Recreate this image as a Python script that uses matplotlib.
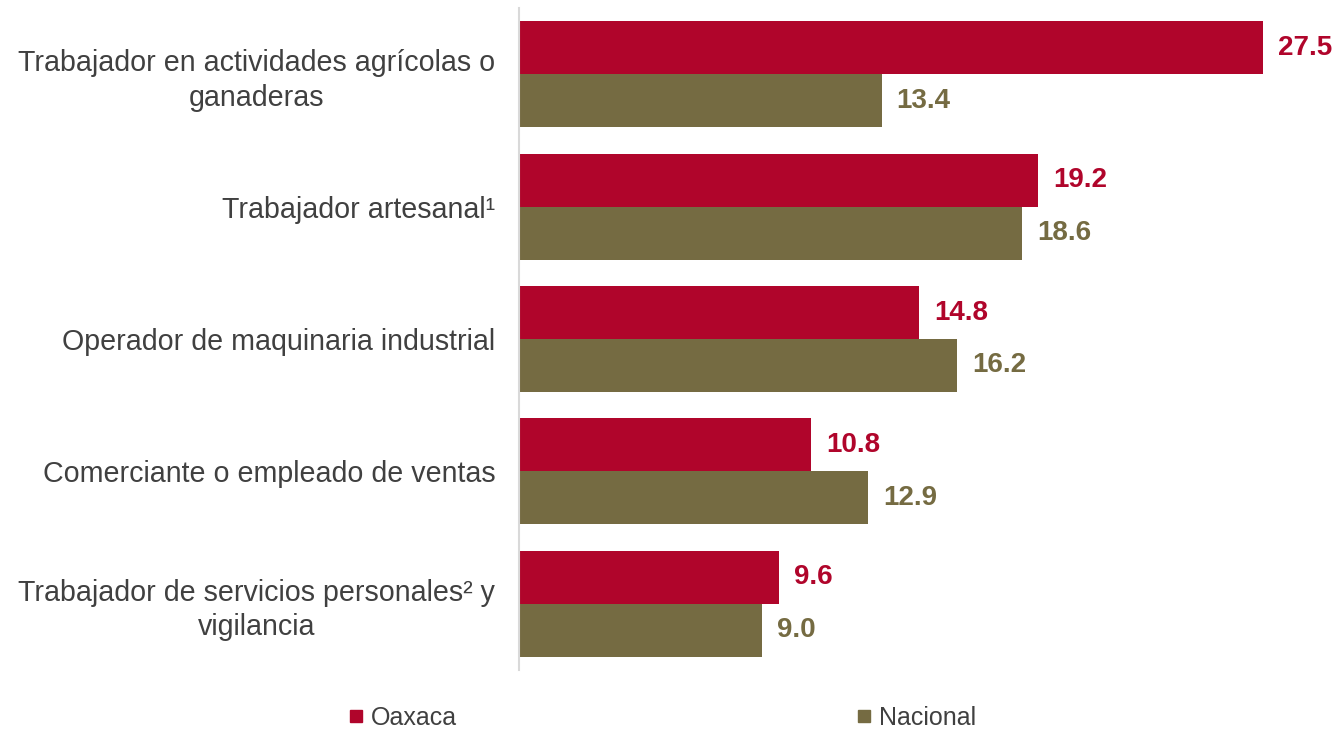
import matplotlib
matplotlib.use("Agg")
import matplotlib.pyplot as plt
from matplotlib.lines import Line2D
import numpy as np

categories = [
    "Trabajador en actividades agrícolas o\nganaderas",
    "Trabajador artesanal¹",
    "Operador de maquinaria industrial",
    "Comerciante o empleado de ventas",
    "Trabajador de servicios personales² y\nvigilancia",
]
oaxaca = [27.5, 19.2, 14.8, 10.8, 9.6]
nacional = [13.4, 18.6, 16.2, 12.9, 9.0]
series_names = ["Oaxaca", "Nacional"]

RED = "#B0052B"
OLIVE = "#756B42"
TXT = "#404040"

plt.rcParams['font.family'] = ['Liberation Sans', 'DejaVu Sans']

fig = plt.figure(figsize=(13.36, 7.32), dpi=100)
ax = fig.add_axes([519/1336, 1-670/732, 1-519/1336-0.004, 662/732])

y = np.arange(len(categories))
h = 0.4
ax.barh(y - h/2, oaxaca, height=h, color=RED)
ax.barh(y + h/2, nacional, height=h, color=OLIVE)

for yi, v in zip(y, oaxaca):
    ax.text(v + 0.55, yi - h/2, f"{v:.1f}", va="center", ha="left",
            color=RED, fontsize=20, fontweight="bold")
for yi, v in zip(y, nacional):
    ax.text(v + 0.55, yi + h/2, f"{v:.1f}", va="center", ha="left",
            color=OLIVE, fontsize=20, fontweight="bold")

ax.set_xlim(0, 30)
ax.set_ylim(len(categories) - 0.5, -0.5)
ax.set_yticks(y)
ax.set_yticklabels(categories, fontsize=20.6, color=TXT, multialignment="center",
                   linespacing=1.3)
ax.tick_params(axis="y", length=0, pad=17)
ax.set_xticks([])
for s in ["top", "right", "bottom"]:
    ax.spines[s].set_visible(False)
ax.spines["left"].set_color("#D9D9D9")
ax.spines["left"].set_linewidth(1.5)

handles = [Line2D([], [], marker="s", linestyle="none", markersize=8.5, color=RED),
           Line2D([], [], marker="s", linestyle="none", markersize=8.5, color=OLIVE)]
leg = fig.legend(handles, series_names, loc="center", bbox_to_anchor=(663/1336, 1-718/732),
                 ncol=2, frameon=False, fontsize=18, handlelength=0.5, handletextpad=0.35,
                 columnspacing=16.0, labelcolor=TXT)

fig.savefig("out.png", dpi=100, facecolor="white")
